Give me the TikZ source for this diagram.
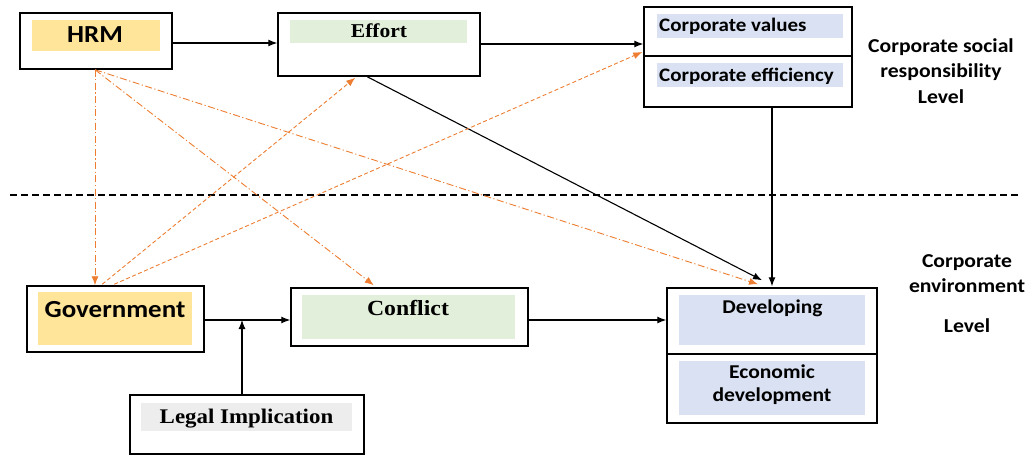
\documentclass[tikz,border=0pt]{standalone}
\usepackage{fontspec}
\setmainfont{Liberation Serif}[FakeStretch=1.1]
\setsansfont{Carlito}[FakeStretch=1.1]
\usetikzlibrary{arrows.meta,calc}
\definecolor{orng}{RGB}{237,125,49}
\definecolor{yel}{RGB}{255,229,153}
\definecolor{grn}{RGB}{226,239,218}
\definecolor{blu}{RGB}{217,225,242}
\definecolor{gry}{RGB}{237,237,237}
\begin{document}
\begin{tikzpicture}[x=1pt,y=-1pt,
  outer/.style={draw=black,line width=1.5pt,fill=white,inner sep=0pt},
  band/.style={fill=#1,draw=none,inner sep=0pt},
  sflab/.style={font=\sffamily\bfseries,inner sep=0pt,anchor=base},
  rmlab/.style={font=\rmfamily\bfseries,inner sep=0pt,anchor=base},
  side/.style={font=\sffamily\bfseries\fontsize{19.7}{22}\selectfont,inner sep=0pt,anchor=base},
  blk/.style={draw=black,line width=1.1pt,-{Latex[length=9pt,width=7pt]}},
  odash/.style={draw=orng,line width=0.9pt,dash pattern=on 4pt off 2.5pt,-{Latex[length=9pt,width=7pt]}},
  odot/.style={draw=orng,line width=0.9pt,dash pattern=on 7pt off 2.5pt on 1.2pt off 2.5pt,-{Latex[length=9pt,width=7pt]}}]
\useasboundingbox (0,0) rectangle (1028,457);

% dashed level line
\coordinate (dl1) at (10,195);
\coordinate (dl2) at (1020,195);
\draw[line width=1.1pt,dash pattern=on 7pt off 4pt] (dl1) -- (dl2);

% HRM
\node[outer,minimum width=152pt,minimum height=56pt] (hrm) at (96,41) {};
\node[band=yel,minimum width=128pt,minimum height=31pt] (hrmf) at (96,35.5) {};
\node[sflab,font=\sffamily\bfseries\fontsize{24.5}{26}\selectfont] (hrmt) at (95,43) {HRM};

% Effort
\node[outer,minimum width=202pt,minimum height=63pt] (eff) at (379,44.5) {};
\node[band=grn,minimum width=177pt,minimum height=23pt] (efff) at (378.5,31.5) {};
\node[rmlab,font=\rmfamily\bfseries\fontsize{19.6}{22}\selectfont] (efft) at (379,38) {Effort};

% Corporate box
\node[outer,minimum width=208pt,minimum height=100pt] (corp) at (748,57) {};
\coordinate (cdl) at (644,56);
\coordinate (cdr) at (852,56);
\draw[line width=1.5pt] (cdl) -- (cdr);
\node[band=blu,minimum width=186pt,minimum height=24pt] (cvf) at (750,26) {};
\node[band=blu,minimum width=186pt,minimum height=24pt] (cef) at (750,75) {};
\node[sflab,font=\sffamily\bfseries\fontsize{19.1}{22}\selectfont,anchor=base west] (cvt) at (659,32) {Corporate values};
\node[sflab,font=\sffamily\bfseries\fontsize{19.1}{22}\selectfont,anchor=base west] (cet) at (659,82) {Corporate efficiency};

% right labels top
\node[side] (s1) at (941,53) {Corporate social};
\node[side] (s2) at (941,78) {responsibility};
\node[side] (s3) at (941,104) {Level};

% Government
\node[outer,minimum width=177pt,minimum height=66pt] (gov) at (115.5,319) {};
\node[band=yel,minimum width=154pt,minimum height=53pt] (govf) at (115,318.5) {};
\node[sflab,font=\sffamily\bfseries\fontsize{24.5}{26}\selectfont] (govt) at (115,317) {Government};

% Conflict
\node[outer,minimum width=237pt,minimum height=58pt] (conf) at (409.5,317) {};
\node[band=grn,minimum width=213pt,minimum height=44pt] (conff) at (408.5,317) {};
\node[rmlab,font=\rmfamily\bfseries\fontsize{21.6}{24}\selectfont] (conft) at (408,315) {Conflict};

% Legal Implication
\node[outer,minimum width=234pt,minimum height=59pt] (legal) at (247,424.5) {};
\node[band=gry,minimum width=211pt,minimum height=28pt] (legalf) at (246.5,417) {};
\node[rmlab,font=\rmfamily\bfseries\fontsize{20.8}{23}\selectfont] (legalt) at (246.5,423) {Legal Implication};

% Developing box
\node[outer,minimum width=210pt,minimum height=135pt] (dev) at (772,355.5) {};
\coordinate (ddl) at (667,354);
\coordinate (ddr) at (877,354);
\draw[line width=2.6pt] (ddl) -- (ddr);
\node[band=blu,minimum width=186pt,minimum height=50pt] (devf) at (772,320) {};
\node[band=blu,minimum width=186pt,minimum height=54pt] (ecof) at (772,388) {};
\node[sflab,font=\sffamily\bfseries\fontsize{19.5}{22}\selectfont] (devt) at (772.5,313) {Developing};
\node[sflab,font=\sffamily\bfseries\fontsize{19.6}{22}\selectfont] (ecot1) at (772,378) {Economic};
\node[sflab,font=\sffamily\bfseries\fontsize{19.6}{22}\selectfont] (ecot2) at (772,401) {development};

% right labels bottom
\node[side] (s4) at (967,267) {Corporate};
\node[side] (s5) at (967,292) {environment};
\node[side] (s6) at (967,332) {Level};

% black connectors
\draw[blk] (hrm.east |- 0,43) -- (eff.west |- 0,43);
\draw[blk] (eff.east |- 0,44) -- (corp.west |- 0,44);
\draw[blk] ($(eff.south west)+(90,0)$) -- ($(dev.north)+(-10,-7)$);
\draw[blk] (corp.south -| dev.north) -- ($(dev.north)+(0,-1)$);
\draw[blk] (gov.east |- 0,320) -- (conf.west |- 0,320);
\draw[blk] (conf.east |- 0,320) -- (dev.west |- 0,320);
\coordinate (lj) at (242,320);
\draw[blk] (legal.north -| lj) -- (lj);

% orange dash-dot from HRM
\draw[odot] (hrm.south -| 95,0) -- (gov.north -| 95,0);
\draw[odot] (hrm.south -| 95,0) -- ($(conf.north west)!0.35!(conf.north east)+(0,-2)$);
\draw[odot] (hrm.south -| 95,0) -- ($(dev.north)+(-14,-3)$);

% orange dashed from Government
\draw[odash] ($(gov.north west)+(76,-1)$) -- ($(eff.south west)+(78,1)$);
\draw[odash] ($(gov.north west)+(88,-1)$) -- ($(corp.west)+(-1,-5)$);
\end{tikzpicture}
\end{document}
